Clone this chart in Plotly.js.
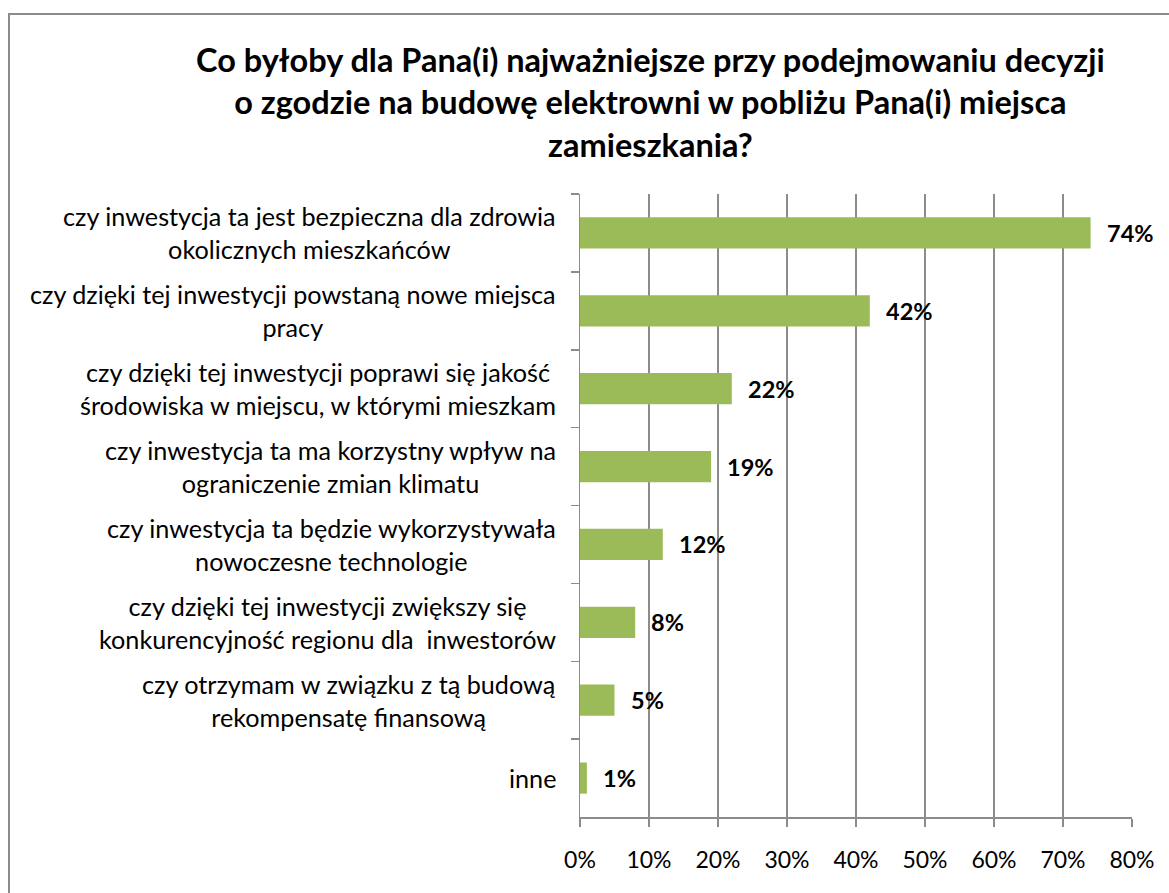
<!DOCTYPE html>
<html>
<head>
<meta charset="utf-8">
<script src="https://cdn.plot.ly/plotly-3.0.1.min.js"></script>
<style>
html,body{margin:0;padding:0;background:#fff;}
#chart{position:absolute;left:0;top:0;width:1169px;height:893px;}
#frame{position:absolute;left:8px;top:13px;width:1300px;height:1000px;border:2px solid #8c8c8c;pointer-events:none;}
</style>
</head>
<body>
<div id="chart"></div>
<div id="frame"></div>
<script>
const categories = [
  "czy inwestycja ta jest bezpieczna dla zdrowia<br>okolicznych mieszkańców",
  "czy dzięki tej inwestycji powstaną nowe miejsca<br>pracy",
  "czy dzięki tej inwestycji poprawi się jakość<br>środowiska w miejscu, w którymi mieszkam",
  "czy inwestycja ta ma korzystny wpływ na<br>ograniczenie zmian klimatu",
  "czy inwestycja ta będzie wykorzystywała<br>nowoczesne technologie",
  "czy dzięki tej inwestycji zwiększy się<br>konkurencyjność regionu dla  inwestorów",
  "czy otrzymam w związku z tą budową<br>rekompensatę finansową",
  "inne"
];
const values = [0.74, 0.42, 0.22, 0.19, 0.12, 0.08, 0.05, 0.01];
const valueLabels = ["74%", "42%", "22%", "19%", "12%", "8%", "5%", "1%"];
const xTickVals = [0, 0.1, 0.2, 0.3, 0.4, 0.5, 0.6, 0.7, 0.8];
const xTickText = ["0%", "10%", "20%", "30%", "40%", "50%", "60%", "70%", "80%"];
const titleText = "Co byłoby dla Pana(i) najważniejsze przy podejmowaniu decyzji<br>o zgodzie na budowę elektrowni w pobliżu Pana(i) miejsca<br>zamieszkania?";

const FONT = "Lato, 'Open Sans', sans-serif";

const annotations = [];
categories.forEach((c, i) => {
  annotations.push({
    xref: 'paper', yref: 'y', x: 0, y: c, xanchor: 'right', yanchor: 'middle',
    xshift: -22, text: c, showarrow: false, align: 'center',
    font: {family: FONT, size: 25.2, color: '#000'}
  });
  annotations.push({
    xref: 'x', yref: 'y', x: values[i], y: c, xanchor: 'left', yanchor: 'middle',
    xshift: 14, text: '<b>' + valueLabels[i] + '</b>', showarrow: false,
    font: {family: FONT, size: 23.5, color: '#000'}
  });
});

annotations.push({
  xref: 'paper', yref: 'paper', x: 0.128, y: 1, yshift: 156, xanchor: 'center', yanchor: 'top',
  text: '<b>' + titleText + '</b>', showarrow: false, align: 'center',
  font: {family: FONT, size: 32.5, color: '#000'}
});

const data = [{
  type: 'bar', orientation: 'h',
  x: values, y: categories,
  marker: {color: '#9BBB59'},
  width: 0.4,
  hoverinfo: 'none'
}];

const layout = {
  width: 1169, height: 893,
  margin: {l: 580, r: 37, t: 194, b: 76, pad: 0},
  paper_bgcolor: '#fff', plot_bgcolor: '#fff',
  showlegend: false,
  xaxis: {
    range: [0, 0.8], tickvals: xTickVals, ticktext: xTickText,
    showgrid: true, gridcolor: '#8c8c8c', gridwidth: 1.5,
    ticks: 'outside', ticklen: 8, tickcolor: '#8c8c8c', tickwidth: 1.5,
    showline: true, linecolor: '#8c8c8c', linewidth: 1.5,
    zeroline: false, ticklabelstandoff: 14,
    tickfont: {family: FONT, size: 23, color: '#000'},
    fixedrange: true
  },
  yaxis: {
    type: 'category', autorange: 'reversed',
    showticklabels: false, tickson: 'boundaries',
    ticks: 'outside', ticklen: 8, tickcolor: '#8c8c8c', tickwidth: 1.5,
    showline: true, linecolor: '#8c8c8c', linewidth: 1.5,
    showgrid: false, zeroline: false, fixedrange: true
  },
  annotations: annotations
};

Plotly.newPlot('chart', data, layout, {displayModeBar: false, staticPlot: true});
</script>
</body>
</html>
